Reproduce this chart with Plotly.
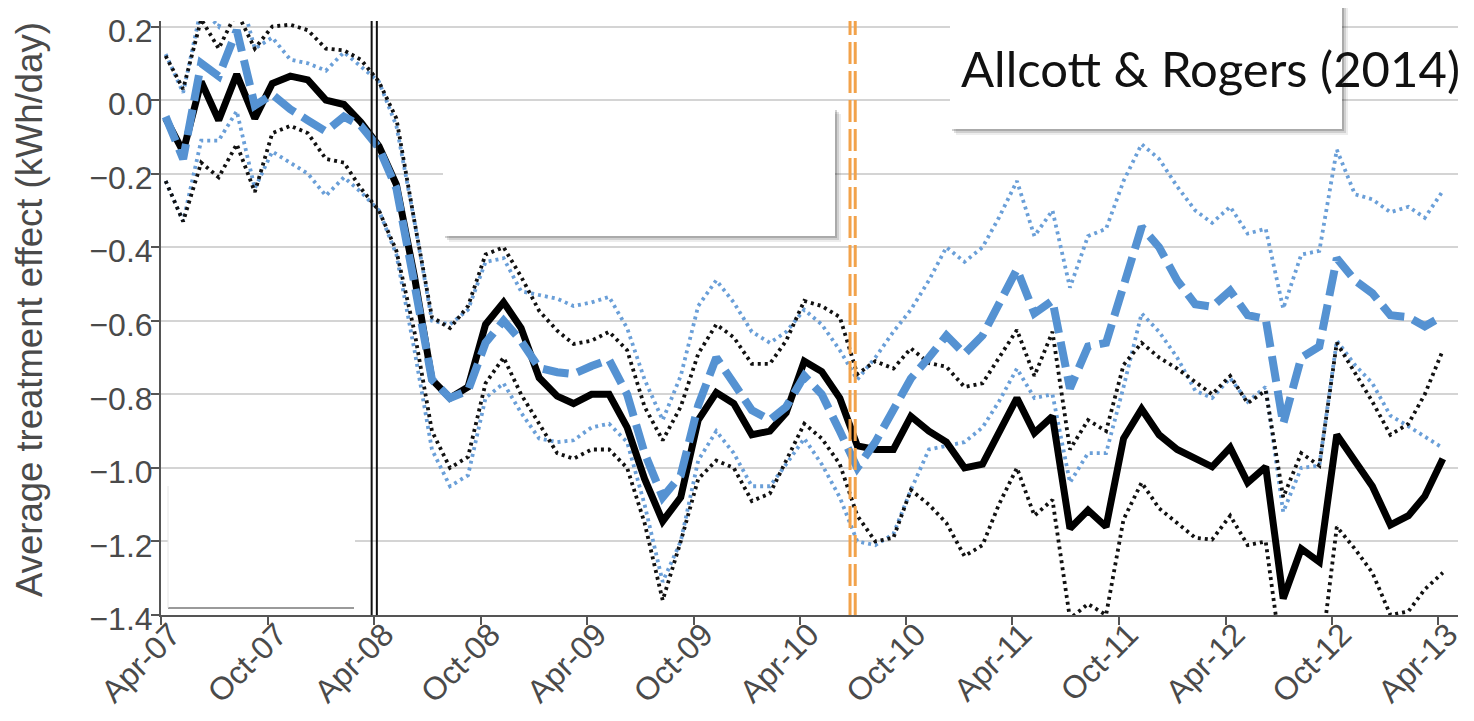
import pandas as pd
import plotly.graph_objects as go

# ---- data (monthly, Apr-2007 .. Apr-2013) ----
months = pd.date_range("2007-04-09", periods=73, freq=pd.DateOffset(months=1))

continued = [-0.05, -0.14, 0.05, -0.055, 0.07, -0.05, 0.045, 0.065, 0.055, 0.0,
             -0.012, -0.06, -0.125, -0.23, -0.48, -0.76, -0.81, -0.78, -0.61, -0.55,
             -0.62, -0.755, -0.805, -0.825, -0.80, -0.80, -0.89, -1.03, -1.145, -1.08,
             -0.87, -0.795, -0.825, -0.91, -0.90, -0.85, -0.71, -0.738, -0.81, -0.94,
             -0.95, -0.95, -0.86, -0.90, -0.93, -1.0, -0.99, -0.90, -0.81, -0.905,
             -0.86, -1.165, -1.115, -1.16, -0.92, -0.84, -0.91, -0.95, -0.975, -0.997,
             -0.945, -1.04, -0.997, -1.355, -1.22, -1.256, -0.91, -0.98, -1.05, -1.155,
             -1.13, -1.077, -0.975]
continued_hi = [0.12, 0.03, 0.22, 0.14, 0.24, 0.14, 0.20, 0.205, 0.19, 0.14,
                0.135, 0.11, 0.05, -0.05, -0.33, -0.59, -0.62, -0.56, -0.42, -0.40,
                -0.48, -0.573, -0.627, -0.663, -0.654, -0.63, -0.68, -0.834, -0.925, -0.834,
                -0.69, -0.61, -0.645, -0.717, -0.717, -0.654, -0.546, -0.56, -0.59, -0.745,
                -0.71, -0.73, -0.675, -0.715, -0.725, -0.78, -0.77, -0.70, -0.625, -0.75,
                -0.63, -0.95, -0.87, -0.90, -0.72, -0.66, -0.70, -0.73, -0.766, -0.80,
                -0.75, -0.824, -0.79, -1.08, -0.96, -0.994, -0.66, -0.74, -0.82, -0.91,
                -0.88, -0.80, -0.68]
continued_lo = [-0.22, -0.33, -0.17, -0.21, -0.12, -0.25, -0.09, -0.07, -0.09, -0.16,
                -0.17, -0.24, -0.30, -0.41, -0.63, -0.90, -1.0, -0.97, -0.77, -0.70,
                -0.80, -0.88, -0.96, -0.975, -0.95, -0.95, -1.0, -1.15, -1.36, -1.20,
                -1.03, -0.98, -1.0, -1.09, -1.07, -0.98, -0.88, -0.92, -0.99, -1.13,
                -1.20, -1.19, -1.06, -1.10, -1.15, -1.24, -1.21, -1.10, -1.0, -1.13,
                -1.087, -1.41, -1.37, -1.40, -1.14, -1.04, -1.11, -1.15, -1.19, -1.195,
                -1.13, -1.21, -1.20, -1.55, -1.50, -1.55, -1.16, -1.22, -1.285, -1.40,
                -1.39, -1.33, -1.285]

dropped = [-0.045, -0.16, 0.10, 0.065, 0.19, -0.015, 0.015, -0.025, -0.055, -0.085,
           -0.045, -0.07, -0.13, -0.24, -0.50, -0.76, -0.81, -0.79, -0.66, -0.60,
           -0.655, -0.728, -0.74, -0.745, -0.723, -0.706, -0.80, -0.96, -1.08, -1.02,
           -0.83, -0.70, -0.77, -0.843, -0.87, -0.834, -0.75, -0.80, -0.90, -1.0,
           -0.93, -0.845, -0.757, -0.70, -0.64, -0.69, -0.64, -0.555, -0.46, -0.58,
           -0.545, -0.784, -0.67, -0.66, -0.51, -0.345, -0.40, -0.49, -0.555, -0.562,
           -0.518, -0.585, -0.595, -0.88, -0.70, -0.67, -0.43, -0.49, -0.525, -0.585,
           -0.59, -0.615, -0.587]
dropped_hi = [0.125, 0.02, 0.25, 0.20, 0.32, 0.14, 0.17, 0.11, 0.10, 0.08,
              0.13, 0.09, 0.05, -0.07, -0.33, -0.60, -0.61, -0.57, -0.44, -0.43,
              -0.52, -0.53, -0.54, -0.56, -0.55, -0.535, -0.62, -0.76, -0.87, -0.75,
              -0.56, -0.49, -0.55, -0.63, -0.66, -0.63, -0.57, -0.61, -0.68, -0.76,
              -0.70, -0.63, -0.57, -0.49, -0.40, -0.44, -0.40, -0.32, -0.22, -0.37,
              -0.30, -0.51, -0.37, -0.35, -0.22, -0.12, -0.16, -0.235, -0.30, -0.334,
              -0.29, -0.363, -0.35, -0.567, -0.42, -0.41, -0.135, -0.256, -0.27, -0.305,
              -0.29, -0.32, -0.247]
dropped_lo = [-0.22, -0.33, -0.11, -0.11, -0.03, -0.24, -0.14, -0.17, -0.20, -0.26,
              -0.21, -0.25, -0.30, -0.42, -0.68, -0.95, -1.05, -1.02, -0.81, -0.77,
              -0.85, -0.92, -0.93, -0.925, -0.89, -0.88, -0.93, -1.10, -1.31, -1.20,
              -0.98, -0.90, -0.96, -1.05, -1.05, -0.99, -0.92, -0.99, -1.08, -1.20,
              -1.21, -1.18, -1.06, -0.95, -0.94, -0.93, -0.89, -0.82, -0.73, -0.81,
              -0.80, -1.04, -0.96, -0.96, -0.78, -0.58, -0.63, -0.70, -0.79, -0.81,
              -0.756, -0.82, -0.78, -1.12, -1.0, -0.994, -0.654, -0.72, -0.77, -0.858,
              -0.887, -0.916, -0.946]

treatment_start = "2008-04-01"
discontinuation = "2010-07-01"
x_range = ["2007-04-01", "2013-05-05"]
y_range = [-1.4, 0.215]

BLUE = "#5592d2"
BLUE_DOT = "#6a9fd8"
ORANGE = "#f2a24a"
AXIS = "#555555"
TXT = "#4a4a4a"

# figure sits in the page body (8px default margin)
OFF = 8
W, H = 1458, 705
L, R, T, B = 153, 8, 13, 98
PX0, PX1 = OFF + L, OFF + W - R          # plot area in page pixels
PY0, PY1 = OFF + T, OFF + H - B


def px(xp):
    return (xp - PX0) / (PX1 - PX0)


def py(yp):
    return (PY1 - yp) / (PY1 - PY0)


fig = go.Figure()

for y, col in [(dropped_hi, BLUE_DOT), (dropped_lo, BLUE_DOT),
               (continued_hi, "#111111"), (continued_lo, "#111111")]:
    fig.add_trace(go.Scatter(x=months, y=y, mode="lines",
                             line=dict(color=col, width=3.8, dash="3px,4px"),
                             hoverinfo="skip", showlegend=False))

fig.add_trace(go.Scatter(x=months, y=continued, mode="lines",
                         line=dict(color="#000000", width=7), showlegend=False))
fig.add_trace(go.Scatter(x=months, y=dropped, mode="lines",
                         line=dict(color=BLUE, width=8, dash="26px,9px"),
                         showlegend=False))

shapes = []
# event lines (double lines)
for off in (-2.6, 2.6):
    shapes.append(dict(type="line", xref="x", xsizemode="pixel", xanchor=treatment_start,
                       x0=off, x1=off, yref="paper", y0=0, y1=1,
                       line=dict(color="#111111", width=2)))
    shapes.append(dict(type="line", xref="x", xsizemode="pixel", xanchor=discontinuation,
                       x0=off, x1=off, yref="paper", y0=0, y1=1,
                       line=dict(color=ORANGE, width=3, dash="22px,7px")))


def box(x0, y0, x1, y1, shadow=True):
    out = []
    if shadow:
        for d, a in ((6, 0.07), (4, 0.12), (2, 0.18)):
            out.append(dict(type="rect", xref="paper", yref="paper",
                            x0=px(x0 + d), x1=px(x1 + d), y0=py(y1 + d), y1=py(y0 + d),
                            fillcolor=f"rgba(0,0,0,{a})", line=dict(width=0), layer="above"))
    out.append(dict(type="rect", xref="paper", yref="paper",
                    x0=px(x0), x1=px(x1), y0=py(y1), y1=py(y0),
                    fillcolor="white", line=dict(width=0), layer="above"))
    return out


shapes += box(443, 108, 835, 236)
shapes += box(950, -10, 1342, 129)
shapes += box(168, 486, 355, 609, shadow=False)
shapes.append(dict(type="line", xref="paper", yref="paper", x0=px(168), x1=px(354),
                   y0=py(608), y1=py(608), line=dict(color="#9a9a9a", width=2), layer="above"))
shapes.append(dict(type="line", xref="paper", yref="paper", x0=px(168), x1=px(168),
                   y0=py(608), y1=py(486), line=dict(color="#e6e6e6", width=1), layer="above"))

fig.update_layout(
    width=W, height=H,
    margin=dict(l=L, r=R, t=T, b=B),
    paper_bgcolor="white", plot_bgcolor="white",
    shapes=shapes,
    font=dict(family="Liberation Sans, Arial, sans-serif", color=TXT),
    annotations=[
        dict(text="Allcott & Rogers (2014)", xref="paper", yref="paper",
             x=px(959), y=py(68), xanchor="left", yanchor="middle", showarrow=False,
             font=dict(family="Lato", size=49, color="#111111")),
        dict(text="Average treatment effect (kWh/day)", xref="paper", yref="paper",
             x=px(30), y=py(310), xanchor="center", yanchor="middle", textangle=-90,
             showarrow=False, font=dict(size=36.5, color=TXT)),
    ],
)
fig.update_xaxes(type="date", range=x_range, tick0="2007-04-01", dtick="M6",
                 tickformat="%b-%y", tickangle=-45, ticks="outside", ticklen=8,
                 tickwidth=2, tickcolor=AXIS, showline=True, linecolor=AXIS, linewidth=2,
                 showgrid=False, zeroline=False, automargin=False,
                 ticklabeloverflow="allow", ticklabelshift=10, ticklabelstandoff=-22,
                 tickfont=dict(size=32, color=TXT))
fig.update_yaxes(range=y_range, tick0=-1.4, dtick=0.2, tickformat=".1f",
                 ticks="outside", ticklen=8, tickwidth=2, tickcolor=AXIS,
                 showline=True, linecolor=AXIS, linewidth=2, ticklabelstandoff=-8,
                 ticklabelshift=4, automargin=False, ticklabeloverflow="allow",
                 showgrid=True, gridcolor="#d4d4d4", gridwidth=2, zeroline=False,
                 tickfont=dict(size=32, color=TXT))

fig.write_html("out.html")
